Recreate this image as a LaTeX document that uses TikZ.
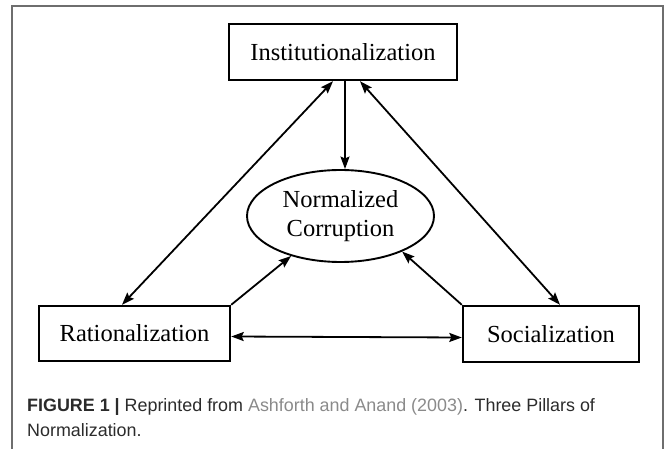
\documentclass[tikz,border=0pt]{standalone}
\usepackage{fontspec}
\setmainfont{Liberation Serif}
\newfontfamily\capfont{Liberation Sans}
\usetikzlibrary{arrows.meta,calc,shapes.geometric}
\definecolor{framegray}{HTML}{6E6E6E}
\definecolor{captext}{HTML}{2B2B2B}
\definecolor{linkgray}{HTML}{8A8A8A}
\begin{document}
\begin{tikzpicture}[x=1pt,y=-1pt,
  pillar/.style={draw=black,line width=2.4pt,rectangle,inner sep=0pt,
    font=\fontsize{24.5}{29}\selectfont},
  core/.style={draw=black,line width=1.9pt,ellipse,inner sep=0pt,
    font=\fontsize{24.5}{29}\selectfont,align=center},
  conn/.style={line width=1.8pt,draw=black},
  tip/.tip={Stealth[length=12.5pt,width=9pt,inset=2pt]},
  captxt/.style={anchor=base west,inner sep=0pt,text=captext,
    font=\capfont\fontsize{17.9}{25}\selectfont}
]
\useasboundingbox (0,0) rectangle (667,449);
\draw[framegray,line width=1.4pt] (12,455) -- (12,6) -- (663,6) -- (663,455);

\node[pillar,minimum width=228pt,minimum height=56pt] (inst) at (343,52) {Institutionalization};
\node[pillar,minimum width=191pt,minimum height=55pt] (rat) at (134.5,333.5) {Rationalization};
\node[pillar,minimum width=176pt,minimum height=56pt] (soc) at (551,334) {Socialization};
\node[core,minimum width=187pt,minimum height=92pt] (nc) at (340.5,216) {Normalized\\Corruption};

\draw[conn,-tip] ([xshift=2pt]inst.south) -- ([xshift=2pt]inst.south |- nc.north);
\draw[conn,tip-tip] ([xshift=-10pt]inst.south) -- ([xshift=-12.5pt]rat.north);
\draw[conn,tip-tip] ([xshift=17pt]inst.south) -- ([xshift=9pt]soc.north);
\draw[conn,-tip] (rat.north east) -- (nc.219);
\draw[conn,-tip] (soc.north west) -- (nc.330);
\draw[conn,tip-tip] ([yshift=-3pt]rat.east) -- ([yshift=-3.5pt]soc.west);

\node[captxt] (cap1) at (27,411) {\textbf{FIGURE 1 |} Reprinted from \textcolor{linkgray}{Ashforth and Anand (2003)}. Three Pillars of};
\node[captxt] (cap2) at (27,436) {Normalization.};
\end{tikzpicture}
\end{document}
